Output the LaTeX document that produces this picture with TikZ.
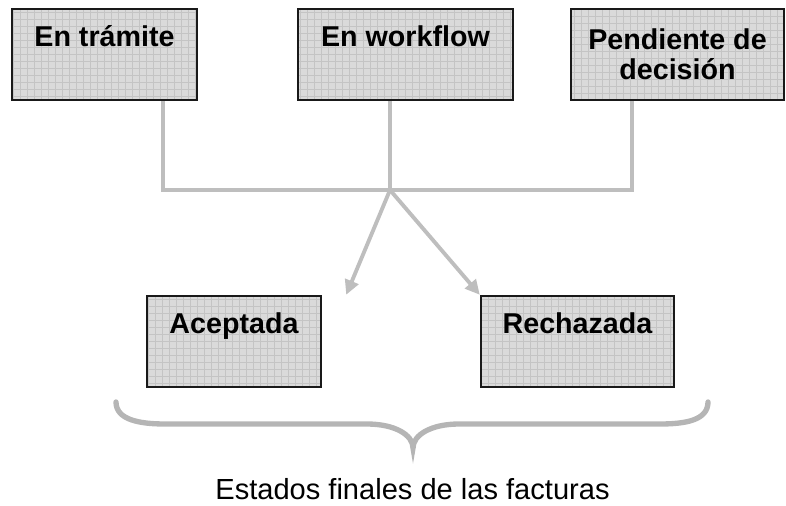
\documentclass[tikz,border=0pt]{standalone}
\usepackage{fontspec}
\setmainfont{Liberation Sans}
\usetikzlibrary{arrows.meta,positioning}
\definecolor{lineGray}{RGB}{190,190,190}
\definecolor{boxFill}{RGB}{218,218,218}
\definecolor{gridGray}{RGB}{196,196,196}
\begin{document}
\begin{tikzpicture}[x=0.75pt,y=-0.75pt,
  statebox/.style={draw=black!90,line width=1.8pt,fill=boxFill,
    inner xsep=0pt,inner ysep=0pt,minimum height=68.25pt,
    font=\fontsize{21.5}{22.5}\selectfont\bfseries,
    path picture={\draw[gridGray,line width=0.4pt]
      (path picture bounding box.south west) grid[step=5.25pt]
      (path picture bounding box.north east);}},
  oneline/.style={text height=28.5pt,text depth=39.75pt},
  conn/.style={lineGray,line width=2.9pt},
  arr/.style={conn,-{Triangle[length=11pt,width=10.5pt]}},
  brace/.style={lineGray!95!black,line width=4pt,line cap=round}]
\useasboundingbox (0,0) rectangle (786,506);
% Pending states (top row)
\node[statebox,oneline,minimum width=138.75pt] (tram) at (104.5,54.5) {En trámite};
\node[statebox,oneline,minimum width=161.25pt] (flow) at (405.5,54.5) {En workflow};
\node[statebox,align=center,minimum width=159.75pt] (pend) at (677.5,54.5) {Pendiente de\\decisión};
% Final states (bottom row)
\node[statebox,oneline,minimum width=130.5pt] (acep) at (234,341.5) {Aceptada};
\node[statebox,oneline,minimum width=144.75pt] (rech) at (577.5,341.5) {Rechazada};
% Joining connectors
\coordinate (join) at (390,190);
\draw[conn] ([xshift=43.9pt]tram.south) |- (join);
\draw[conn] ([xshift=-11.6pt]flow.south) -- (join);
\draw[conn] ([xshift=-34.1pt]pend.south) |- (join);
% Outcome arrows
\draw[arr] (join) -- ([xshift=18pt]acep.north east);
\draw[arr] (join) -- (rech.north west);
% Brace under the final states
\draw[brace] (116,402) .. controls (116,420) and (140,424) .. (165,424)
  -- (367,424) .. controls (395,424) and (413,435) .. (413,448)
  .. controls (413,435) and (431,424) .. (459,424)
  -- (660,424) .. controls (686,424) and (708,420) .. (708,402);
\node[font=\fontsize{21.8}{26}\selectfont,anchor=base] (caption) at (412.5,499) {Estados finales de las facturas};
\end{tikzpicture}
\end{document}
